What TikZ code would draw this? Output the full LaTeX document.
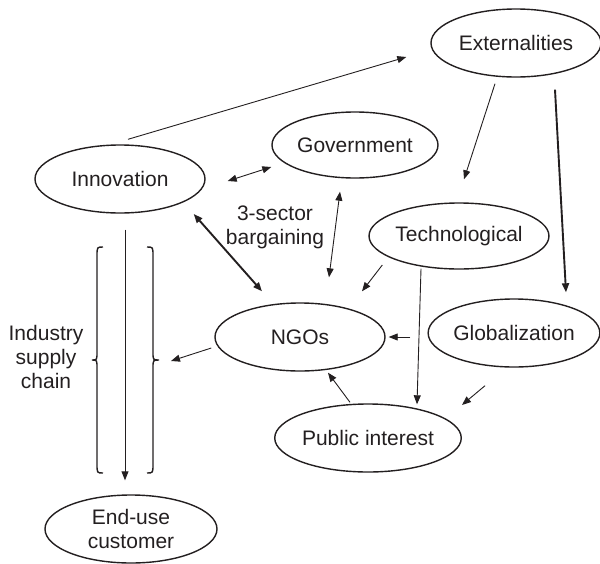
\documentclass[tikz,border=0pt]{standalone}
\usepackage{fontspec}
\setmainfont{Liberation Sans}
\usetikzlibrary{shapes.geometric,arrows.meta}
\definecolor{ink}{HTML}{231F20}
\begin{document}
\begin{tikzpicture}[x=1pt,y=-1pt,
  font=\fontsize{21}{24}\selectfont, color=ink,
  oval/.style={draw,ellipse,line width=1.4pt,inner sep=0pt,
    minimum width=170pt,minimum height=68pt,align=center},
  arr/.style={line width=0.9pt,-{Triangle[length=9pt,width=7pt]}},
  biarr/.style={line width=0.9pt,{Triangle[length=9pt,width=7pt]}-{Triangle[length=9pt,width=7pt]}},
  heavy/.style={line width=1.9pt},
  brc/.style={line width=1.4pt}]
\useasboundingbox (0,0) rectangle (600,563);

% actors
\node[oval] (ext)  at (516,43)  {Externalities};
\node[oval,minimum width=166pt,minimum height=66pt] (gov) at (355,145) {Government};
\node[oval] (inn)  at (120,179) {Innovation};
\node[oval,minimum width=172pt,minimum height=66pt] (tech) at (459,236) {Technological};
\node[oval] (ngo)  at (300,337) {NGOs};
\node[oval] (glob) at (514,333) {Globalization};
\node[oval] (pub)  at (368,438) {Public interest};
\node[oval,minimum width=172pt] (end) at (131,529) {End-use\\customer};

% labels
\node[align=center] (bargain) at (275,227) {3-sector\\bargaining};
\node[align=center] (chain) at (46,357) {Industry\\supply\\chain};

% braces round the supply chain
\draw[brc] (103,247) .. controls (97,247) .. (97,256) -- (97,352)
  .. controls (97,360) .. (92,360) .. controls (97,360) .. (97,368)
  -- (97,464) .. controls (97,473) .. (103,473);
\draw[brc] (147,247) .. controls (153,247) .. (153,256) -- (153,352)
  .. controls (153,360) .. (159,360) .. controls (153,360) .. (153,368)
  -- (153,464) .. controls (153,473) .. (147,473);
\coordinate (rbrace) at (159,360);

% connectors
\draw[arr] ([shift={(8,-5)}]inn.north) -- ([shift={(-24,14)}]ext.west);
\draw[biarr] ([shift={(22,2)}]inn.east) -- ([shift={(0,22)}]gov.west);
\draw[biarr,heavy] ([shift={(-12,35)}]inn.east) -- ([shift={(-38,-11)}]ngo.north);
\draw[biarr] ([shift={(-15,13)}]gov.south) -- ([shift={(29,-25)}]ngo.north);
\draw[arr] ([shift={(-21,6)}]ext.south) -- ([shift={(5,-23)}]tech.north);
\draw[arr,heavy] ([shift={(39,12)}]ext.south) -- ([shift={(52,-6)}]glob.north);
\draw[arr] ([shift={(14,29)}]tech.west) -- ([shift={(62,-11)}]ngo.north);
\draw[arr] ([shift={(-38,-1)}]tech.south) -- ([shift={(49,1)}]pub.north);
\draw[arr] ([shift={(-17,4)}]glob.west) -- ([shift={(3,0)}]ngo.east);
\draw[arr] ([shift={(-29,18)}]glob.south) -- ([shift={(0,-33)}]pub.east);
\draw[arr] ([shift={(-18,-1)}]pub.north) -- ([shift={(28,1)}]ngo.south);
\draw[arr] ([shift={(-3,11)}]ngo.west) -- ([shift={(12,1)}]rbrace);
\draw[arr] ([shift={(5,16)}]inn.south) -- ([shift={(-6,-14)}]end.north);
\end{tikzpicture}
\end{document}
